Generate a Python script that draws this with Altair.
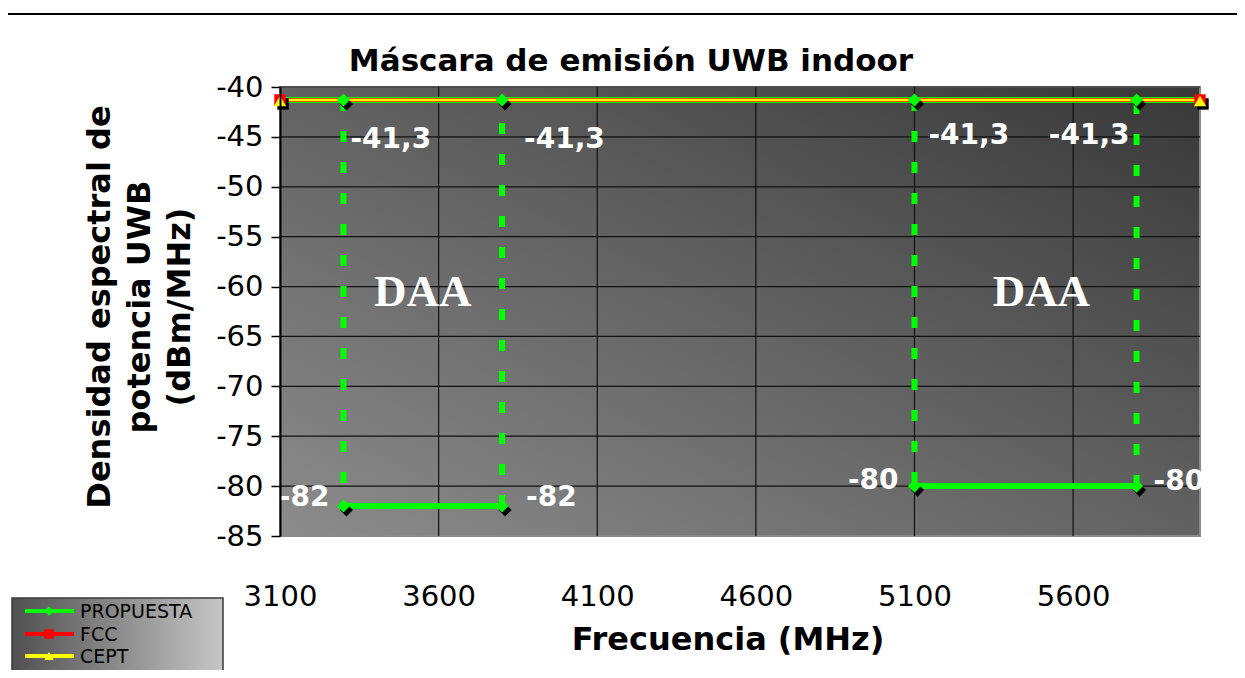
import altair as alt
import pandas as pd

# ---------------- data ----------------
freq_ticks = [3100, 3600, 4100, 4600, 5100, 5600]
dbm_ticks = [-85, -80, -75, -70, -65, -60, -55, -50, -45, -40]
freq_domain = [3100, 6000]
dbm_domain = [-85, -40]

# PROPUESTA mask drawn as segments (start/end)
prop_x1 = [3100, 3300, 3300, 3800, 5100, 5100, 5800]
prop_x2 = [6000, 3300, 3800, 3800, 5100, 5800, 5800]
prop_y1 = [-41.3, -41.3, -82, -82, -41.3, -80, -80]
prop_y2 = [-41.3, -82, -82, -41.3, -80, -80, -41.3]

# PROPUESTA markers / data labels
prop_pt_freq = [3300, 3800, 5100, 5800, 3300, 3800, 5100, 5800]
prop_pt_dbm = [-41.3, -41.3, -41.3, -41.3, -82, -82, -80, -80]

fcc_freq = [3100, 6000]
fcc_dbm = [-41.3, -41.3]
cept_freq = [3100, 6000]
cept_dbm = [-41.3, -41.3]

daa_freq = [3550, 5500]
daa_dbm = [-60.5, -60.5]
daa_text = ["DAA", "DAA"]

title_text = "Máscara de emisión UWB indoor"
x_title = "Frecuencia (MHz)"
y_title = ["Densidad espectral de", "potencia UWB", "(dBm/MHz)"]
legend_names = ["PROPUESTA", "FCC", "CEPT"]

# ---------------- styles ----------------
W, H = 920, 449
FONT = "DejaVu Sans"
GREEN, RED, YELLOW = "#00ff00", "#ff0000", "#ffff00"
# (align, dx, dy) for each data label
label_style = [("left", 7, 40), ("left", 22, 40), ("left", 14, 36), ("right", -7, 36),
               ("right", -14, -8), ("left", 24, -8), ("right", -16, -5), ("left", 17, -4)]

xs = alt.Scale(domain=freq_domain, nice=False, zero=False)
ys = alt.Scale(domain=dbm_domain, nice=False, zero=False)

x_axis = alt.Axis(values=freq_ticks, grid=False, ticks=False, domain=False,
                  labelFont=FONT, labelFontSize=29, labelColor="black",
                  labelPadding=46, title=None, zindex=1, labelExpr="'' + datum.value",
                  labelFlush=False)
y_axis = alt.Axis(values=dbm_ticks, grid=False, ticks=True, tickSize=9,
                  tickColor="black", tickWidth=1.5, domain=True,
                  domainColor="black", domainWidth=2,
                  labelFont=FONT, labelFontSize=29, labelColor="black",
                  labelPadding=8, title=None, zindex=1, labelExpr="'' + datum.value",
                  labelFlush=False)

one = pd.DataFrame({"k": [0]})

seg = pd.DataFrame({"x1": prop_x1, "x2": prop_x2, "y1": prop_y1, "y2": prop_y2})
seg["vertical"] = seg["x1"] == seg["x2"]
seg_solid = seg[~seg["vertical"]]
seg_dash = seg[seg["vertical"]]

pts = pd.DataFrame({"f": prop_pt_freq, "d": prop_pt_dbm})
pts["lab"] = [("%g" % v).replace(".", ",") for v in prop_pt_dbm]
fcc = pd.DataFrame({"f": fcc_freq, "d": fcc_dbm})
cept = pd.DataFrame({"f": cept_freq, "d": cept_dbm})
daa = pd.DataFrame({"f": daa_freq, "d": daa_dbm, "t": daa_text})


def X(f):
    return alt.X(f, type="quantitative", scale=xs, axis=x_axis)


def Y(f):
    return alt.Y(f, type="quantitative", scale=ys, axis=y_axis)


layers = []

# background gradient of plot area
bg = alt.Chart(one).mark_rect(
    fill=alt.Gradient(gradient="linear",
                      stops=[alt.GradientStop(color="#8c8c8c", offset=0),
                             alt.GradientStop(color="#383838", offset=1)],
                      x1=0, y1=1, x2=1, y2=0)
).encode(x=alt.value(0), x2=alt.value(W), y=alt.value(0), y2=alt.value(H))
layers.append(bg)

# plot border (grey)
layers.append(alt.Chart(one).mark_rect(fillOpacity=0, stroke="#8a8a8a", strokeWidth=2).encode(
    x=alt.value(0), x2=alt.value(W), y=alt.value(0), y2=alt.value(H)))

# grid lines from tick lists
vgrid = alt.Chart(pd.DataFrame({"f": freq_ticks[1:]})).mark_rule(color="#111111", strokeWidth=1.2).encode(
    x=X("f"), y=alt.value(0), y2=alt.value(H))
hgrid = alt.Chart(pd.DataFrame({"d": dbm_ticks[1:]})).mark_rule(color="#111111", strokeWidth=1.2).encode(
    y=Y("d"), x=alt.value(0), x2=alt.value(W))
layers += [vgrid, hgrid]

# PROPUESTA lines
layers.append(alt.Chart(seg_solid).mark_rule(color=GREEN, strokeWidth=6).encode(
    x=X("x1"), x2="x2", y=Y("y1"), y2="y2"))
layers.append(alt.Chart(seg_dash).mark_rule(color=GREEN, strokeWidth=6, strokeDash=[11, 20]).encode(
    x=X("x1"), x2="x2", y=Y("y1"), y2="y2"))
# FCC / CEPT lines
layers.append(alt.Chart(fcc).mark_line(color=RED, strokeWidth=4).encode(x=X("f"), y=Y("d")))
layers.append(alt.Chart(cept).mark_line(color=YELLOW, strokeWidth=2.5).encode(x=X("f"), y=Y("d")))

# marker shadows
layers.append(alt.Chart(pts).mark_point(shape="diamond", size=170, filled=True, color="black",
                                        opacity=1, xOffset=3, yOffset=4).encode(x=X("f"), y=Y("d")))
layers.append(alt.Chart(fcc).mark_point(shape="square", size=130, filled=True, color="black",
                                        opacity=1, xOffset=3, yOffset=4).encode(x=X("f"), y=Y("d")))
# markers
layers.append(alt.Chart(pts).mark_point(shape="diamond", size=170, filled=True, color=GREEN,
                                        opacity=1).encode(x=X("f"), y=Y("d")))
layers.append(alt.Chart(fcc).mark_point(shape="square", size=130, filled=True, color=RED,
                                        opacity=1).encode(x=X("f"), y=Y("d")))
layers.append(alt.Chart(cept).mark_point(shape="triangle-up", size=150, filled=True, color=YELLOW,
                                         opacity=1, yOffset=1).encode(x=X("f"), y=Y("d")))

# data labels
for i, (al, dx, dy) in enumerate(label_style):
    layers.append(alt.Chart(pts.iloc[[i]]).mark_text(
        align=al, baseline="middle", dx=dx, dy=dy, font=FONT, fontSize=28, fontWeight="bold",
        color="white").encode(x=X("f"), y=Y("d"), text="lab:N"))

# DAA annotations
layers.append(alt.Chart(daa).mark_text(font="Liberation Serif", fontSize=45, fontWeight="bold",
                                       color="white", baseline="middle").encode(
    x=X("f"), y=Y("d"), text="t:N"))

# titles
layers.append(alt.Chart(one).mark_text(text=title_text, font=FONT, fontSize=31, fontWeight="bold",
                                       color="black", baseline="middle").encode(
    x=alt.value(351), y=alt.value(-25)))
layers.append(alt.Chart(one).mark_text(text=x_title, font=FONT, fontSize=32, fontWeight="bold",
                                       color="black", baseline="middle").encode(
    x=alt.value(448), y=alt.value(553)))
layers.append(alt.Chart(one).mark_text(text=y_title, font=FONT, fontSize=32, fontWeight="bold",
                                       color="black", baseline="middle", angle=270, lineHeight=40).encode(
    x=alt.value(-180), y=alt.value(220)))

# legend (manual)
LX0, LX1, LY0 = -268, -57, 511
layers.append(alt.Chart(one).mark_rect(
    fill=alt.Gradient(gradient="linear",
                      stops=[alt.GradientStop(color="#505050", offset=0),
                             alt.GradientStop(color="#c6c6c6", offset=1)],
                      x1=0, y1=0, x2=1, y2=0),
    stroke="#3a3a3a", strokeWidth=1.5).encode(
    x=alt.value(LX0), x2=alt.value(LX1), y=alt.value(LY0), y2=alt.value(620)))
leg_colors = [GREEN, RED, YELLOW]
leg_shapes = ["diamond", "square", "triangle-up"]
leg_rows = [524, 547, 569]
for name, c, s, ry in zip(legend_names, leg_colors, leg_shapes, leg_rows):
    layers.append(alt.Chart(one).mark_rule(color=c, strokeWidth=4).encode(
        x=alt.value(-255), x2=alt.value(-206), y=alt.value(ry)))
    layers.append(alt.Chart(one).mark_point(shape=s, size=90, filled=True, color=c, opacity=1).encode(
        x=alt.value(-231), y=alt.value(ry)))
    layers.append(alt.Chart(one).mark_text(text=name, font=FONT, fontSize=19, color="black",
                                           align="left", baseline="middle").encode(
        x=alt.value(-200), y=alt.value(ry + 1)))

# outer chart border
layers.append(alt.Chart(one).mark_rect(fillOpacity=0, stroke="black", strokeWidth=2).encode(
    x=alt.value(-274), x2=alt.value(1000), y=alt.value(-73), y2=alt.value(700)))

chart = alt.layer(*layers).properties(
    width=W, height=H,
    autosize=alt.AutoSizeParams(type="none"),
    padding={"left": 272, "top": 79, "right": 37, "bottom": 134},
).configure_view(stroke=None).configure(background="white")

chart.save("out.html", embed_options={"renderer": "svg", "actions": False})
